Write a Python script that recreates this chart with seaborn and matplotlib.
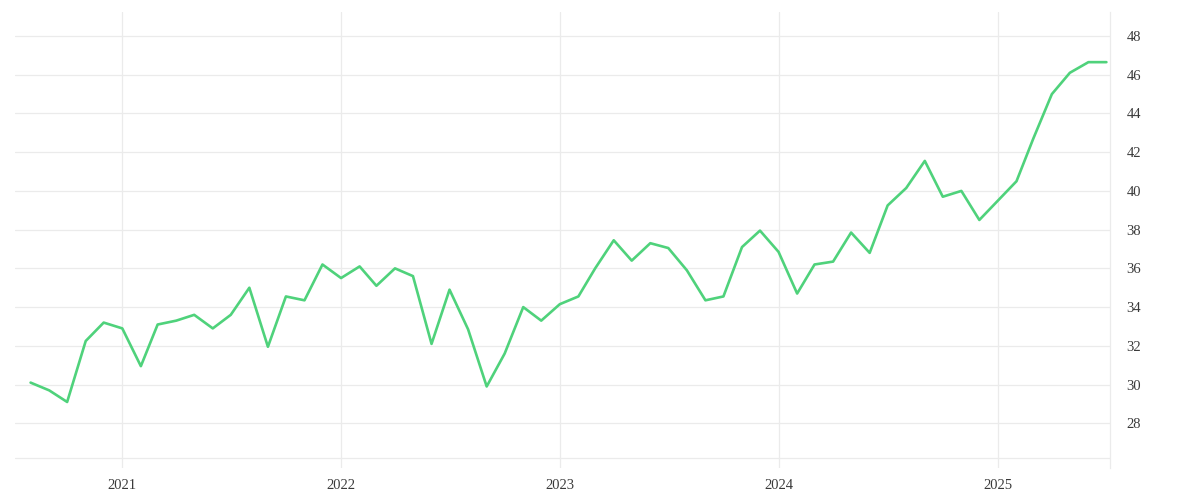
import numpy as np
import pandas as pd
import matplotlib
matplotlib.use('Agg')
import matplotlib.pyplot as plt
import matplotlib.dates as mdates
import seaborn as sns

# monthly values, Aug 2020 .. Jul 2025
start_month = '2020-08-01'
values = [
    30.1, 29.7, 29.1, 32.25, 33.2,                                         # 2020 Aug-Dec
    32.9, 30.95, 33.1, 33.3, 33.6, 32.9, 33.6, 35.0, 31.95, 34.55, 34.35, 36.2,  # 2021
    35.5, 36.1, 35.1, 36.0, 35.6, 32.1, 34.9, 32.85, 29.9, 31.6, 34.0, 33.3,     # 2022
    34.15, 34.55, 36.0, 37.45, 36.4, 37.3, 37.05, 35.9, 34.35, 34.55, 37.1, 37.95,  # 2023
    36.85, 34.7, 36.2, 36.35, 37.85, 36.8, 39.25, 40.15, 41.55, 39.7, 40.0, 38.5,   # 2024
    39.5, 40.5, 42.7, 45.0, 46.1, 46.65, 46.65,                             # 2025 Jan-Jul
]
year_ticks = ['2021', '2022', '2023', '2024', '2025']
y_ticks = [28, 30, 32, 34, 36, 38, 40, 42, 44, 46, 48]

df = pd.DataFrame({
    'date': pd.date_range(start_month, periods=len(values), freq='MS'),
    'value': values,
})

sns.set_theme(style='white')
plt.rcParams['font.family'] = ['Liberation Serif', 'DejaVu Serif']

grid_col = '#ebebeb'
line_col = '#4fd27b'

fig = plt.figure(figsize=(12, 5), dpi=100)
ax = fig.add_axes([15 / 1200, 32 / 500, 1095 / 1200, 456 / 500])

sns.lineplot(data=df, x='date', y='value', ax=ax, color=line_col, linewidth=1.9)

ax.set_xlim(pd.Timestamp('2020-07-06'), pd.Timestamp('2025-07-07'))
ax.set_ylim(25.69, 49.24)

ax.set_xticks([pd.Timestamp(f'{y}-01-01') for y in year_ticks])
ax.set_xticklabels(year_ticks)
ax.set_yticks(y_ticks)
ax.yaxis.tick_right()

ax.grid(True, color=grid_col, linewidth=0.9)
ax.axhline(26.19, color=grid_col, linewidth=0.9, zorder=0)

for side in ['top', 'left', 'bottom']:
    ax.spines[side].set_visible(False)
ax.spines['right'].set_color(grid_col)
ax.spines['right'].set_linewidth(0.9)

ax.tick_params(axis='both', length=0, labelsize=10.5, colors='#3a3a3a')
ax.tick_params(axis='x', pad=8)
ax.tick_params(axis='y', pad=12)
ax.set_xlabel('')
ax.set_ylabel('')

fig.savefig('out.png', dpi=100, facecolor='white')
